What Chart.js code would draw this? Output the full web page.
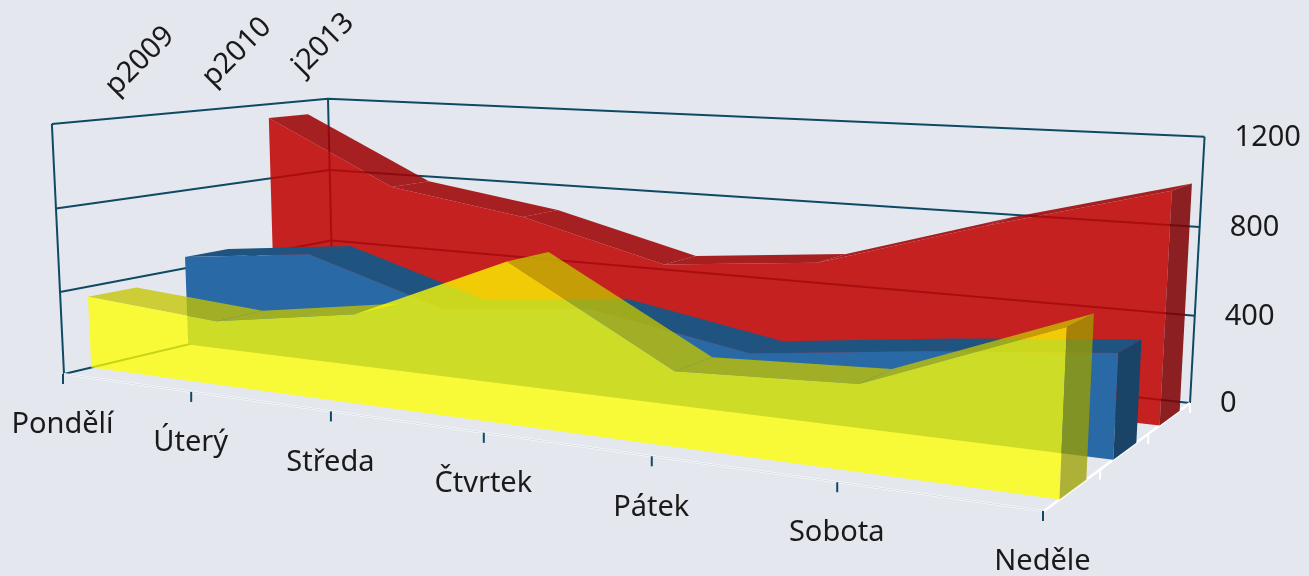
<!DOCTYPE html>
<html><head><meta charset="utf-8">
<style>html,body{margin:0;padding:0;background:#E4E8EE;overflow:hidden}
canvas{display:block}</style>
<script src="https://cdn.jsdelivr.net/npm/chart.js@4"></script></head>
<body><canvas id="c" width="1309" height="576"></canvas>
<script>
const categories=['Pondělí','Úterý','Středa','Čtvrtek','Pátek','Sobota','Neděle'];
const seriesNames=['p2009','p2010','j2013'];
const valuesP2009=[350,303,408,706,317,350,648];
const valuesP2010=[458,532,327,398,272,362,434];
const valuesJ2013=[1125,798,693,513,583,810,1011];
const q=[[64,374],[1044,511],[1190,403],[333,310]];
const tops=[[0,0,50,124],[0,1,330,100],[1,1,1204,135]];
const [x0,y0]=q[0],[x1,y1]=q[1],[x2,y2]=q[2],[x3,y3]=q[3];
const dx1=x1-x2,dx2=x3-x2,sx=x0-x1+x2-x3,dy1=y1-y2,dy2=y3-y2,sy=y0-y1+y2-y3,den=dx1*dy2-dx2*dy1;
const g=(sx*dy2-dx2*sy)/den,h=(dx1*sy-sx*dy1)/den;
const a=x1-x0+g*x1,b=x3-x0+h*x3,c=x0,d=y1-y0+g*y1,e=y3-y0+h*y3,f=y0;
function solve3(){const M=[[0,0,0,0],[0,0,0,0],[0,0,0,0]];
 const add=(r,v)=>{for(let i=0;i<3;i++){for(let j=0;j<3;j++)M[i][j]+=r[i]*r[j];M[i][3]+=r[i]*v}};
 for(const [u,w,xt,yt] of tops){const Hx=a*u+b*w+c,Hy=d*u+e*w+f,Hz=g*u+h*w+1;
  add([1,0,-xt],xt*Hz-Hx);add([0,1,-yt],yt*Hz-Hy);}
 for(let i=0;i<3;i++){for(let k=i+1;k<3;k++){const m=M[k][i]/M[i][i];for(let j=i;j<4;j++)M[k][j]-=m*M[i][j]}}
 const r=[0,0,0];for(let i=2;i>=0;i--){let s=M[i][3];for(let j=i+1;j<3;j++)s-=M[i][j]*r[j];r[i]=s/M[i][i]}return r}
const [A,B,C]=solve3();
const proj=(u,w,v)=>{const z=g*u+h*w+1+C*v;return [(a*u+b*w+c+A*v)/z,(d*u+e*w+f+B*v)/z]};
const hw=0.08;
const font='29px "Noto Sans"',teal='#0F4A63';
const faces=[{top:'rgba(197,196,0,.77)',side:'rgba(158,160,0,.77)',front:'rgba(255,255,0,.77)'},
{top:'#1F5480',side:'#1A4467',front:'#2869A6'},
{top:'rgba(157,2,5,.88)',side:'rgba(126,2,5,.88)',front:'rgba(192,5,5,.88)'}];
const area=pts=>pts.reduce((s,p,i)=>{const n=pts[(i+1)%pts.length];return s+p[0]*n[1]-n[0]*p[1]},0);
const plugin={id:'depth',beforeDatasetsDraw(ch){
 const ctx=ch.ctx,S=ch.scales,cx=S.x,cy=S.y,cz=S.z;
 const U=i=>(cx.getPixelForValue(i)-cx.left)/(cx.right-cx.left);
 const V=v=>(cy.bottom-cy.getPixelForValue(v))/(cy.bottom-cy.top);
 const W=i=>(cz.getPixelForValue(i)-cz.left)/(cz.right-cz.left);
 const line=(pts,col,lw)=>{ctx.beginPath();pts.forEach((p,i)=>i?ctx.lineTo(p[0],p[1]):ctx.moveTo(p[0],p[1]));ctx.strokeStyle=col;ctx.lineWidth=lw;ctx.stroke()};
 const poly=(pts,col)=>{ctx.beginPath();pts.forEach((p,i)=>i?ctx.lineTo(p[0],p[1]):ctx.moveTo(p[0],p[1]));ctx.closePath();ctx.fillStyle=col;ctx.fill()};
 ctx.save();ctx.lineJoin='round';
 const yt=cy.ticks.map(t=>t.value),n=categories.length-1,m=seriesNames.length;
 for(const t of yt){const v=V(t);line([proj(0,0,v),proj(0,1,v),proj(1,1,v)],teal,2)}
 line([proj(0,0,0),proj(0,0,1)],teal,2);line([proj(0,1,0),proj(0,1,1)],teal,2);line([proj(1,1,0),proj(1,1,1)],teal,2);
 line([proj(0,0,0),proj(1,0,0)],'#fff',2);
 line([proj(1,0,0),proj(1,1,0)],'#fff',2.5);
 line([proj(0,0,0),proj(1,0,0)],'rgba(15,74,99,.18)',1);
 for(let s=m-1;s>=0;s--){const vals=ch.data.datasets[s].data,wc=W(s),w0=wc-hw,w1=wc+hw,col=faces[s];
  for(let i=0;i<n;i++){
   const quad=[proj(U(i),w0,V(vals[i])),proj(U(i),w1,V(vals[i])),proj(U(i+1),w1,V(vals[i+1])),proj(U(i+1),w0,V(vals[i+1]))];
   if(area(quad)>0) poly(quad,col.top)}
  const fr=[proj(U(0),w0,0)];vals.forEach((v,i)=>fr.push(proj(U(i),w0,V(v))));fr.push(proj(U(n),w0,0));poly(fr,col.front);
  poly([proj(1,w0,0),proj(1,w1,0),proj(1,w1,V(vals[n])),proj(1,w0,V(vals[n]))],col.side);
 }
 ctx.fillStyle='#1A1A1A';ctx.font=font;ctx.textAlign='center';ctx.textBaseline='middle';
 categories.forEach((l,i)=>{const p=proj(U(i),0,0);line([[p[0]-1,p[1]],[p[0]-1,p[1]+10]],teal,2);ctx.fillStyle='#1A1A1A';ctx.fillText(l,p[0]-1.5,p[1]+51)});
 seriesNames.forEach((_,i)=>{const e=(i+1)/m,p=proj(1,e,0);line([p,[p[0],p[1]+10]],'#fff',2)});
 ctx.textAlign='left';
 for(const t of yt){const p=proj(1,1,V(t));ctx.fillText(String(t),p[0]+30,p[1]+1)}
 ctx.textAlign='center';
 seriesNames.forEach((l,i)=>{const p=proj(0,W(i),1);ctx.save();ctx.translate(p[0]+35,p[1]-58);ctx.rotate(-Math.PI/4);ctx.fillText(l,0,0);ctx.restore()});
 ctx.restore();
}};
new Chart(document.getElementById('c'),{type:'line',plugins:[plugin],
 data:{labels:categories,datasets:[
  {label:seriesNames[0],data:valuesP2009,showLine:false,pointRadius:0},
  {label:seriesNames[1],data:valuesP2010,showLine:false,pointRadius:0},
  {label:seriesNames[2],data:valuesJ2013,showLine:false,pointRadius:0}]},
 options:{responsive:false,animation:false,layout:{padding:0},
  plugins:{legend:{display:false},tooltip:{enabled:false},title:{display:false}},
  scales:{x:{type:'category',display:false,offset:false},
   y:{type:'linear',display:false,min:0,max:1200,ticks:{stepSize:400}},
   z:{type:'category',axis:'x',labels:seriesNames,display:false,offset:true}}}});
</script></body></html>
